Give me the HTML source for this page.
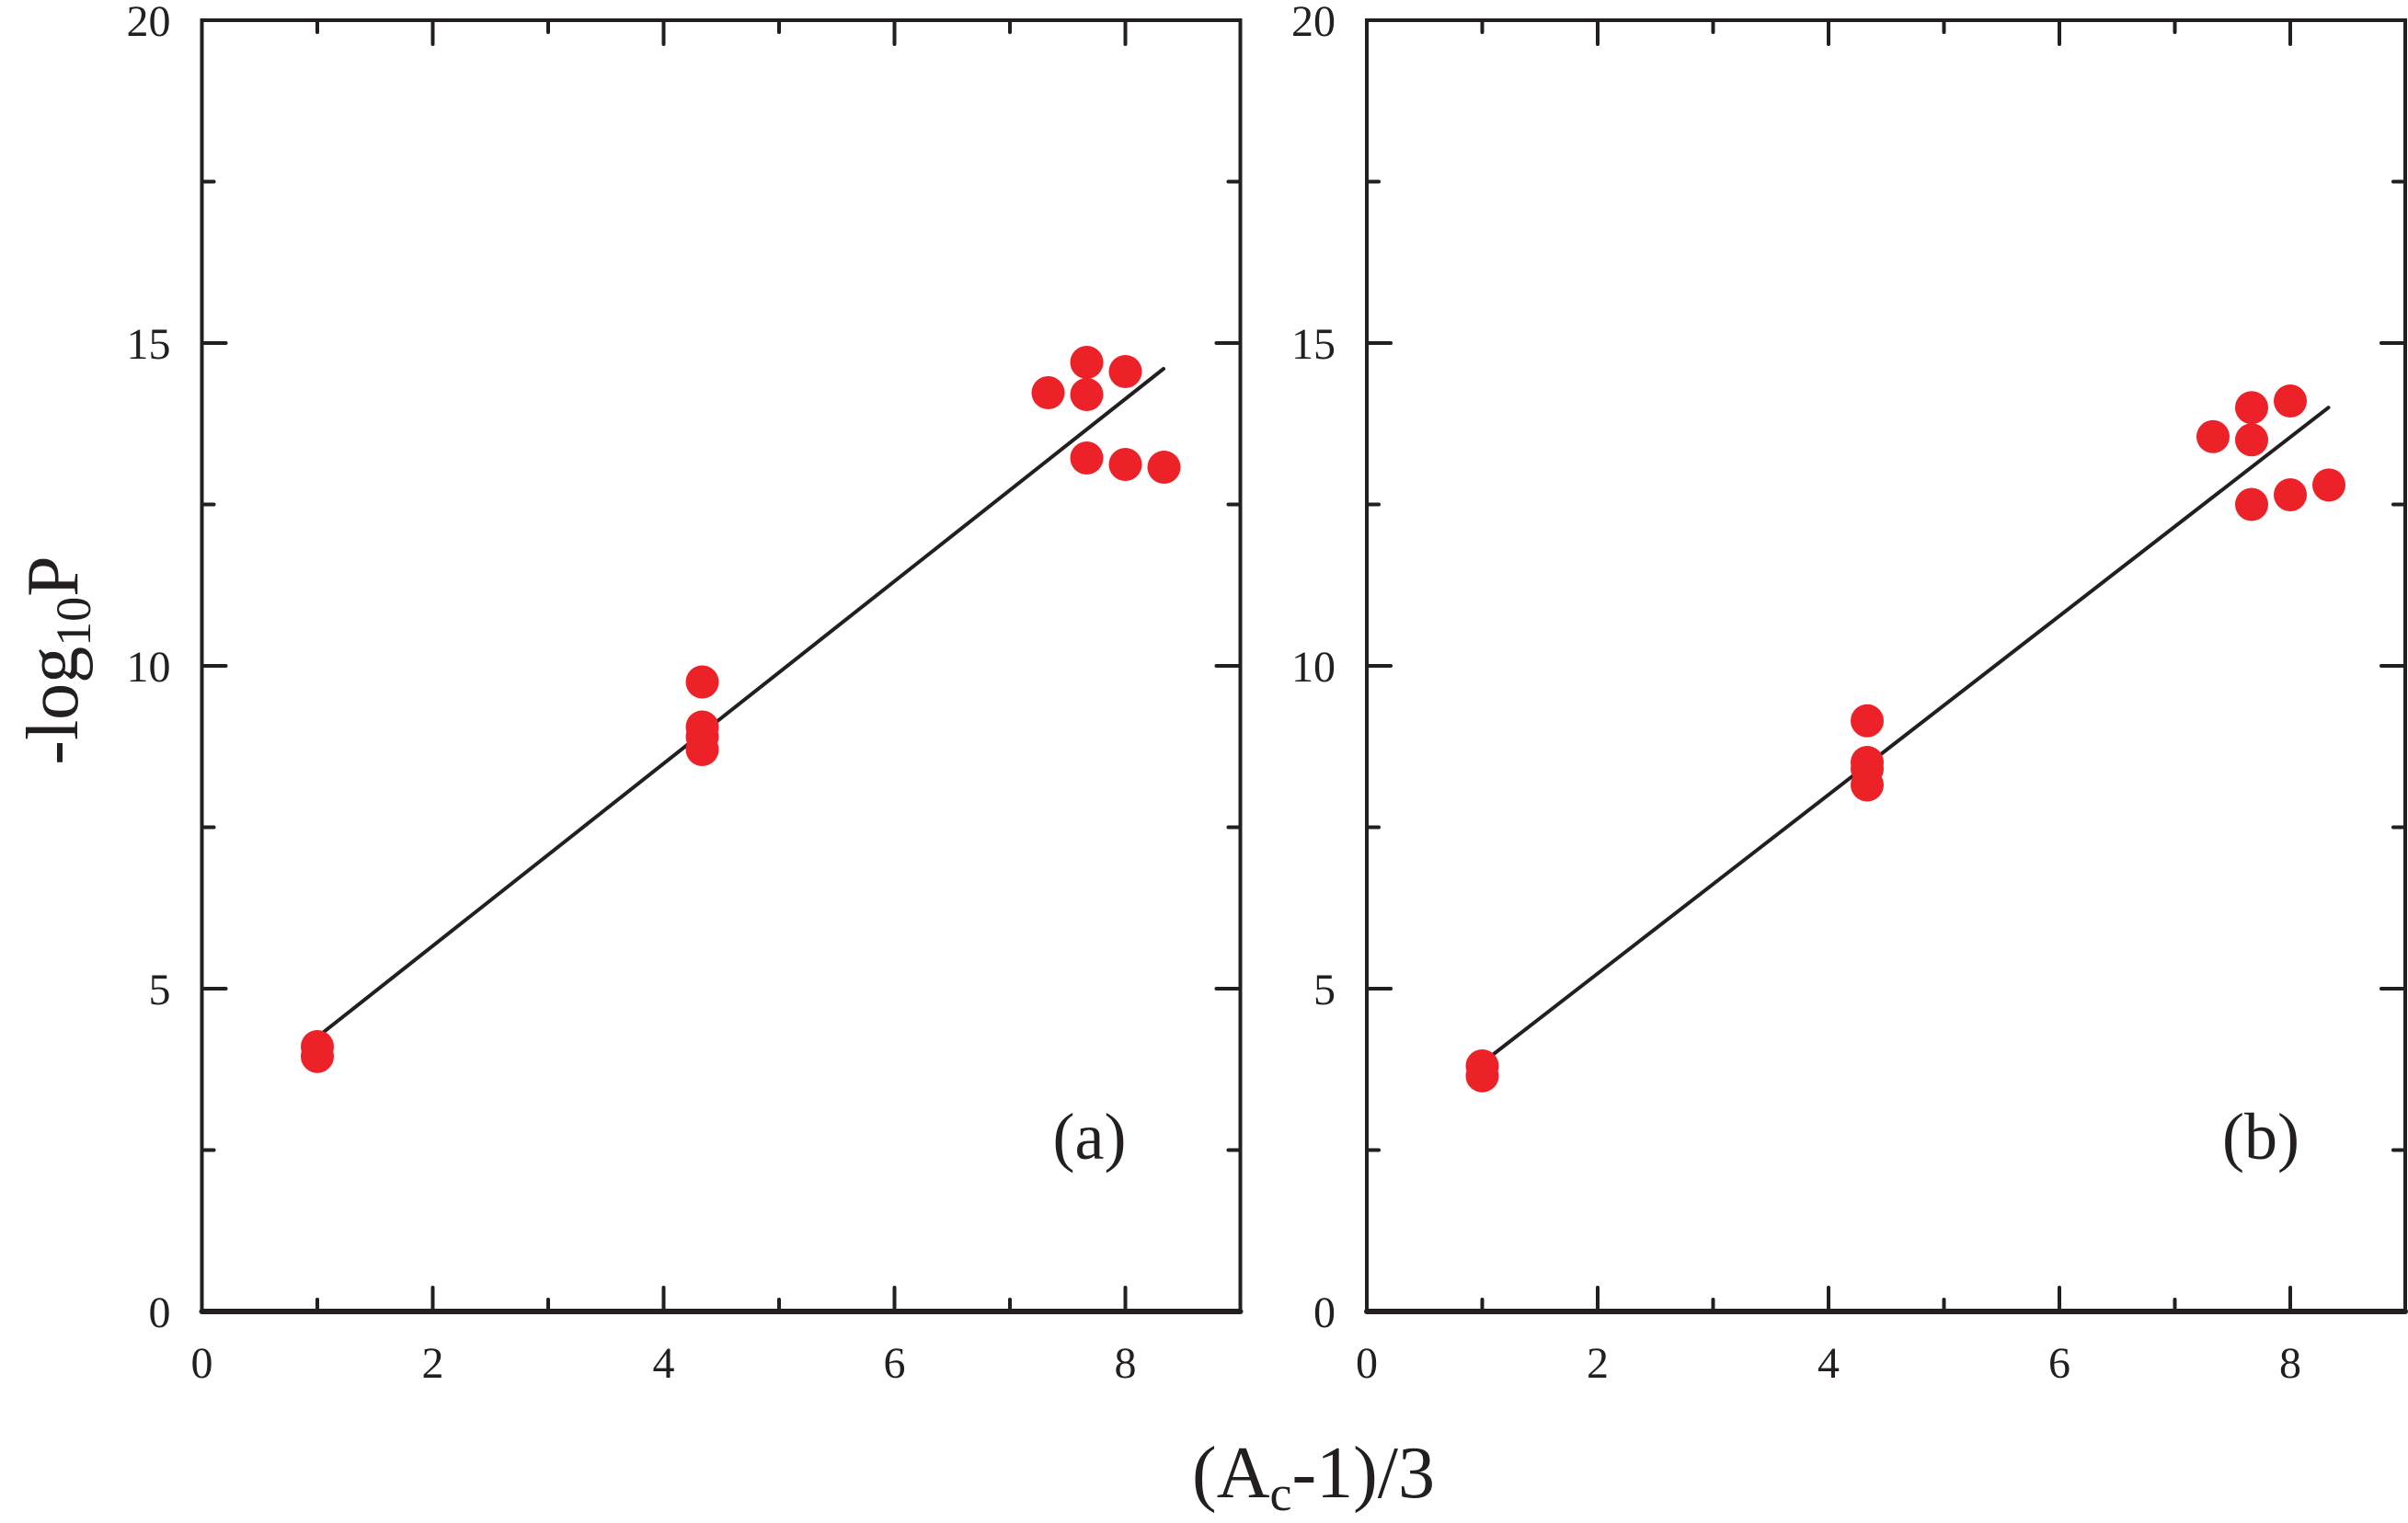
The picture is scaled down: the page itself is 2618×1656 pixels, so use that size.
<!DOCTYPE html>
<html><head><style>body{margin:0;background:#fff}svg{display:block}</style></head><body>
<svg width="2618" height="1656" viewBox="0 0 2618 1656" xmlns="http://www.w3.org/2000/svg" font-family="Liberation Serif, serif" fill="#231f20">
<defs>
<g id="ticks" stroke="#231f20" stroke-width="4" stroke-linecap="round">
<line x1="125.5" y1="1426" x2="125.5" y2="1413"/>
<line x1="251" y1="1426" x2="251" y2="1400"/><line x1="376.5" y1="1426" x2="376.5" y2="1413"/>
<line x1="502" y1="1426" x2="502" y2="1400"/><line x1="627.5" y1="1426" x2="627.5" y2="1413"/>
<line x1="753" y1="1426" x2="753" y2="1400"/><line x1="878.5" y1="1426" x2="878.5" y2="1413"/>
<line x1="1004" y1="1426" x2="1004" y2="1400"/>
<line x1="125.5" y1="22" x2="125.5" y2="35"/><line x1="251" y1="22" x2="251" y2="48"/><line x1="376.5" y1="22" x2="376.5" y2="35"/><line x1="502" y1="22" x2="502" y2="48"/><line x1="627.5" y1="22" x2="627.5" y2="35"/><line x1="753" y1="22" x2="753" y2="48"/><line x1="878.5" y1="22" x2="878.5" y2="35"/><line x1="1004" y1="22" x2="1004" y2="48"/>
<line x1="0" y1="1250.5" x2="13" y2="1250.5"/><line x1="0" y1="1075" x2="26" y2="1075"/><line x1="0" y1="899.5" x2="13" y2="899.5"/><line x1="0" y1="724" x2="26" y2="724"/><line x1="0" y1="548.5" x2="13" y2="548.5"/><line x1="0" y1="373" x2="26" y2="373"/><line x1="0" y1="197.5" x2="13" y2="197.5"/>
<line x1="1129" y1="1250.5" x2="1116" y2="1250.5"/><line x1="1129" y1="1075" x2="1103" y2="1075"/><line x1="1129" y1="899.5" x2="1116" y2="899.5"/><line x1="1129" y1="724" x2="1103" y2="724"/><line x1="1129" y1="548.5" x2="1116" y2="548.5"/><line x1="1129" y1="373" x2="1103" y2="373"/><line x1="1129" y1="197.5" x2="1116" y2="197.5"/>
<rect x="0" y="22" width="1129" height="1404" fill="none" stroke-width="4"/>
<line x1="0" y1="1426" x2="1129" y2="1426" stroke-width="6"/>
</g>
<g id="labels" font-size="48">
<g text-anchor="end"><text x="-34" y="1443">0</text><text x="-34" y="1092">5</text><text x="-34" y="741">10</text><text x="-34" y="390">15</text><text x="-34" y="39">20</text></g>
<g text-anchor="middle"><text x="0" y="1498">0</text><text x="251" y="1498">2</text><text x="502" y="1498">4</text><text x="753" y="1498">6</text><text x="1004" y="1498">8</text></g>
</g>
</defs>
<g transform="translate(219.5,0)"><use href="#ticks"/><use href="#labels"/>
<line x1="125.5" y1="1127.6" x2="1045.5" y2="401" stroke="#231f20" stroke-width="4" stroke-linecap="round"/>
<g fill="#ed2229">
<circle cx="125.5" cy="1138" r="18"/><circle cx="125.5" cy="1148.7" r="18"/>
<circle cx="544" cy="741.5" r="18"/><circle cx="544" cy="790.5" r="18"/><circle cx="544" cy="801" r="18"/><circle cx="544" cy="815" r="18"/>
<circle cx="920" cy="427" r="18"/><circle cx="962" cy="394" r="18"/><circle cx="962" cy="429" r="18"/><circle cx="962" cy="498" r="18"/>
<circle cx="1004" cy="404" r="18"/><circle cx="1004" cy="505" r="18"/><circle cx="1046" cy="508" r="18"/>
</g>
<text x="965" y="1260" font-size="72" text-anchor="middle">(a)</text>
</g>
<g transform="translate(1486,0)"><use href="#ticks"/><use href="#labels"/>
<line x1="125.5" y1="1155.7" x2="1045.5" y2="443.2" stroke="#231f20" stroke-width="4" stroke-linecap="round"/>
<g fill="#ed2229">
<circle cx="125.5" cy="1159" r="18"/><circle cx="125.5" cy="1169.8" r="18"/>
<circle cx="544" cy="783.7" r="18"/><circle cx="544" cy="829" r="18"/><circle cx="544" cy="836" r="18"/><circle cx="544" cy="853.5" r="18"/>
<circle cx="920" cy="474.8" r="18"/><circle cx="962" cy="443.2" r="18"/><circle cx="962" cy="478.3" r="18"/><circle cx="962" cy="548.5" r="18"/>
<circle cx="1004" cy="436" r="18"/><circle cx="1004" cy="538" r="18"/><circle cx="1046" cy="527.4" r="18"/>
</g>
<text x="972" y="1260" font-size="72" text-anchor="middle">(b)</text>
</g>
<text transform="translate(84,718) rotate(-90)" font-size="80" text-anchor="middle">-log<tspan font-size="54" dy="14">10</tspan><tspan dy="-14">P</tspan></text>
<text x="1428" y="1628" font-size="80" text-anchor="middle">(A<tspan font-size="54" dy="14">c</tspan><tspan dy="-14">-1)/3</tspan></text>
</svg>
</body></html>
